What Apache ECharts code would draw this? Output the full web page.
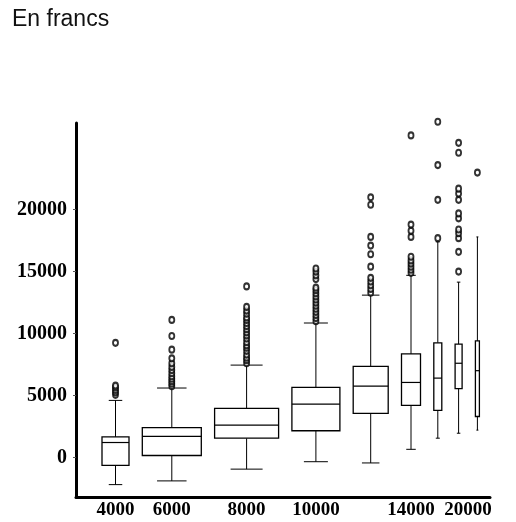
<!DOCTYPE html>
<html>
<head>
<meta charset="utf-8">
<script src="https://cdn.jsdelivr.net/npm/echarts@6/dist/echarts.min.js"></script>
<style>
html,body{margin:0;padding:0;background:#fff;}
#chart{width:516px;height:522px;}
</style>
</head>
<body>
<div id="chart"></div>
<script>
// ---- data ----
const titleText = 'En francs';
// five-number summaries per income group: [lower whisker, Q1, median, Q3, upper whisker]
const whiskerLow  = [-2200, -1900, -950, -350, -450,   650,  1550,  1950,  2200];
const quart1      = [ -650,   150, 1550, 2150, 3550,  4200,  3800,  5550,  3300];
const median      = [ 1200,  1700, 2600, 4300, 5750,  6050,  6400,  7600,  7000];
const quart3      = [ 1650,  2400, 3950, 5650, 7350,  8350,  9250,  9150,  9400];
const whiskerHigh = [ 4600,  5600, 7450,10850,13100, 14700, 17400, 14150, 17800];
// relative group size (variable box width)
const groupSize   = [27, 59, 64, 48, 35, 19, 8, 7, 4];
// outliers per group
const outliers = [
  [5050, 5250, 5450, 5650, 5800, 9250],
  [5750, 5950, 6150, 6350, 6550, 6800, 7050, 7300, 7600, 8000, 8700, 9800, 11100],
  [7600, 7850, 8050, 8300, 8600, 8850, 9050, 9300, 9600, 9850, 10100, 10350, 10600, 10850, 11100, 11300, 11600, 11850, 12150, 13800],
  [11000, 11250, 11500, 11750, 12000, 12250, 12500, 12750, 13000, 13250, 13500, 13700, 14400, 14700, 15000, 15250],
  [13300, 13600, 13900, 14200, 14500, 15400, 16400, 17100, 17800, 20400, 21000],
  [14900, 15150, 15400, 15650, 15900, 16200, 17800, 18300, 18800, 26000],
  [17700, 20800, 23600, 27100],
  [15000, 16600, 17700, 18100, 18400, 19300, 19700, 20800, 21300, 21700, 24600, 25400],
  [23000]
];
const yTickValues = [0, 5000, 10000, 15000, 20000];
const xTickLabels = ['4000', '6000', '8000', '10000', '14000', '20000'];
const xTickGroup  = [0, 1, 2, 3, 5, 7.5]; // group index under which each label sits

// ---- layout of variable-width boxes along the x axis ----
const lead = 26, gap = 13.3, xMax = 414;
let cursor = lead;
const centers = groupSize.map(w => { const c = cursor + w / 2; cursor += w + gap; return c; });
function groupPos(i) {
  const a = Math.floor(i), b = Math.ceil(i);
  return centers[a] + (centers[b] - centers[a]) * (i - a);
}
const xTickValues = xTickGroup.map(groupPos);
function xLabelFor(v) {
  let best = 0, d = Infinity;
  xTickValues.forEach((t, i) => { if (Math.abs(t - v) < d) { d = Math.abs(t - v); best = i; } });
  return d < 1 ? xTickLabels[best] : '';
}

const boxData = centers.map((c, i) => [c, whiskerLow[i], quart1[i], median[i], quart3[i], whiskerHigh[i], groupSize[i]]);
const outlierData = [];
outliers.forEach((arr, i) => arr.forEach(v => outlierData.push([centers[i], v])));

const chart = echarts.init(document.getElementById('chart'), null, {renderer: 'canvas'});
const axisFont = {fontFamily: '"Liberation Serif", "Times New Roman", serif', fontWeight: 'bold', color: '#000'};

chart.setOption({
  animation: false,
  backgroundColor: '#fff',
  title: {
    text: titleText, left: 12, top: 8, padding: 0,
    textStyle: {fontFamily: '"Liberation Sans", Arial, sans-serif', fontWeight: 'normal', fontSize: 23, color: '#111'}
  },
  grid: {left: 76, right: 26, top: 123, bottom: 25},
  xAxis: {
    type: 'value', min: 0, max: xMax,
    splitLine: {show: false},
    axisLine: {show: true, onZero: false, lineStyle: {color: '#000', width: 3}},
    axisTick: {show: false},
    axisLabel: Object.assign({
      customValues: xTickValues, fontSize: 19, margin: 4,
      formatter: v => xLabelFor(v)
    }, axisFont)
  },
  yAxis: {
    type: 'value', min: -3200, max: 27000,
    splitLine: {show: false},
    axisLine: {show: true, onZero: false, lineStyle: {color: '#000', width: 3}},
    axisTick: {show: true, customValues: yTickValues, length: 3, lineStyle: {color: '#555', width: 1}},
    axisLabel: Object.assign({
      customValues: yTickValues, fontSize: 20, margin: 9, padding: [0, 0, 12, 0],
      formatter: v => String(Math.round(v))
    }, axisFont)
  },
  series: [
    {
      type: 'custom',
      data: boxData,
      encode: {x: 0, y: [1, 2, 3, 4, 5]},
      renderItem: function (params, api) {
        const x = api.value(0);
        const w = api.size([api.value(6), 0])[0];
        const pLow = api.coord([x, api.value(1)]);
        const pQ1 = api.coord([x, api.value(2)]);
        const pMed = api.coord([x, api.value(3)]);
        const pQ3 = api.coord([x, api.value(4)]);
        const pHigh = api.coord([x, api.value(5)]);
        const cx = pQ1[0];
        const half = w / 2, capHalf = w / 4;
        const ls = {stroke: '#000', lineWidth: 1, fill: null};
        return {
          type: 'group',
          children: [
            {type: 'line', shape: {x1: cx, y1: pQ1[1], x2: cx, y2: pLow[1]}, style: ls},
            {type: 'line', shape: {x1: cx, y1: pQ3[1], x2: cx, y2: pHigh[1]}, style: ls},
            {type: 'line', shape: {x1: cx - capHalf, y1: pLow[1], x2: cx + capHalf, y2: pLow[1]}, style: ls},
            {type: 'line', shape: {x1: cx - capHalf, y1: pHigh[1], x2: cx + capHalf, y2: pHigh[1]}, style: ls},
            {type: 'rect', shape: {x: cx - half, y: pQ3[1], width: w, height: pQ1[1] - pQ3[1]},
              style: {stroke: '#000', lineWidth: 1.3, fill: '#fff'}},
            {type: 'line', shape: {x1: cx - half, y1: pMed[1], x2: cx + half, y2: pMed[1]}, style: {stroke: '#000', lineWidth: 1.2}}
          ]
        };
      }
    },
    {
      type: 'scatter',
      data: outlierData,
      clip: false,
      symbol: 'emptyCircle',
      symbolSize: [5, 6],
      itemStyle: {color: '#000', borderColor: '#000', borderWidth: 0.9},
      z: 3
    }
  ]
});
</script>
</body>
</html>
